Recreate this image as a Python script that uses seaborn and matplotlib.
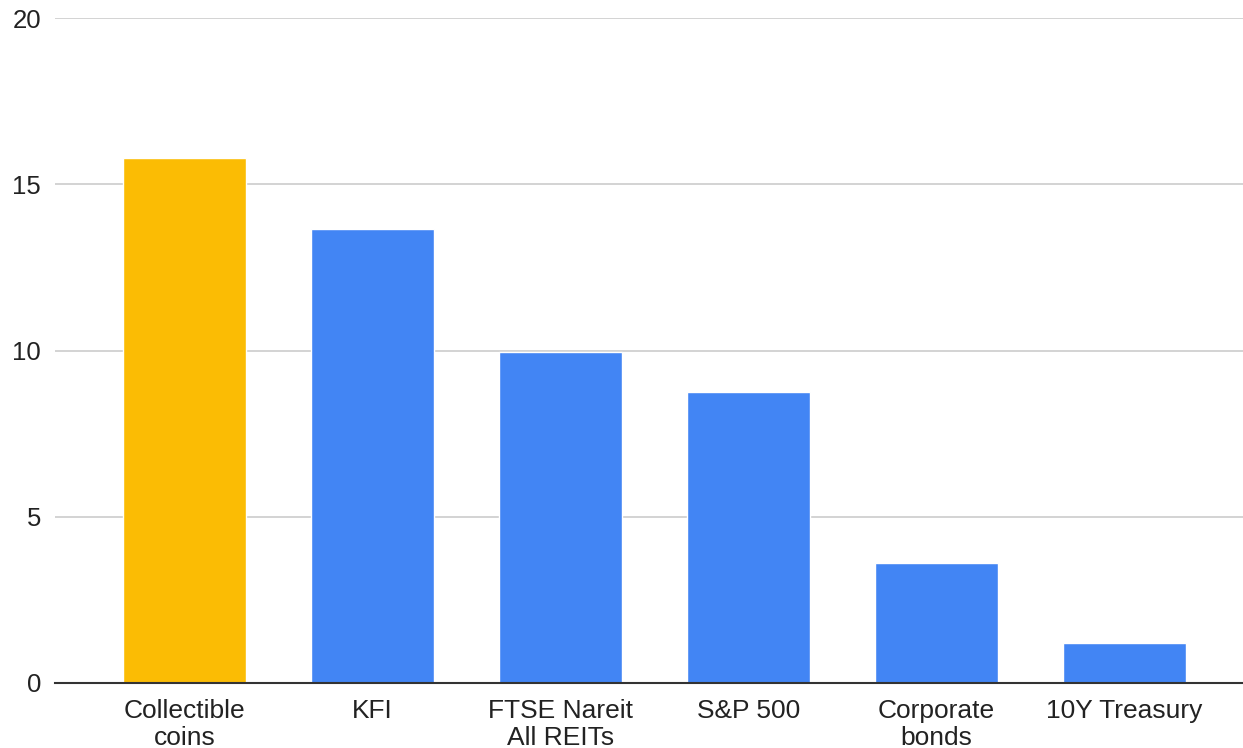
import pandas as pd
import matplotlib
matplotlib.use('Agg')
import matplotlib.pyplot as plt
import seaborn as sns

# Values
categories = ['Collectible\ncoins', 'KFI', 'FTSE Nareit\nAll REITs', 'S&P 500', 'Corporate\nbonds', '10Y Treasury']
values = [15.8, 13.65, 9.95, 8.75, 3.62, 1.2]
bar_colors = ['#FBBC04', '#4285F4', '#4285F4', '#4285F4', '#4285F4', '#4285F4']
y_ticks = [0, 5, 10, 15, 20]

df = pd.DataFrame({'Category': categories, 'Value': values})

sns.set_style('white')
plt.rcParams['font.family'] = ['Liberation Sans', 'DejaVu Sans']

fig = plt.figure(figsize=(12.43, 7.48), dpi=100)
ax = fig.add_axes([55 / 1243, 65 / 748, 1 - 55 / 1243, 665 / 748])

sns.barplot(x='Category', y='Value', data=df, hue='Category', palette=bar_colors,
            legend=False, width=0.655, saturation=1, ax=ax, zorder=2)

ax.set_xlim(-0.69, 5.63)
ax.set_ylim(0, 20)
ax.set_yticks(y_ticks)
ax.yaxis.grid(True, color='#cccccc', linewidth=1.2, zorder=0)
ax.set_axisbelow(True)
for s in ['top', 'right', 'left']:
    ax.spines[s].set_visible(False)
ax.spines['bottom'].set_color('#333333')
ax.spines['bottom'].set_linewidth(1.5)
ax.spines['bottom'].set_zorder(3)

ax.tick_params(axis='y', length=0, pad=10, labelsize=18.5, labelcolor='#222222')
ax.tick_params(axis='x', length=0, pad=11.5, labelsize=19, labelcolor='#222222')
for lbl in ax.get_xticklabels():
    lbl.set_linespacing(1.16)
ax.set_xlabel('')
ax.set_ylabel('')

fig.savefig('out.png', dpi=100)
